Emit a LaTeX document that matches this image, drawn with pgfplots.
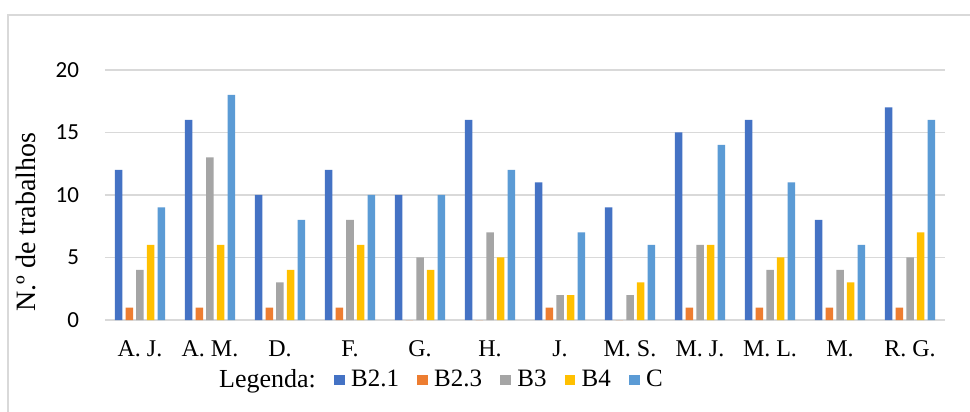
\documentclass[border=0pt]{standalone}
\usepackage{pgfplots}
\pgfplotsset{compat=1.18}
\usepackage{fontspec}
\setmainfont{Liberation Serif}
\newfontfamily\calibri{Carlito}
\definecolor{cB21}{HTML}{4472C4}
\definecolor{cB23}{HTML}{ED7D31}
\definecolor{cB3}{HTML}{A5A5A5}
\definecolor{cB4}{HTML}{FFC000}
\definecolor{cC}{HTML}{5B9BD5}
\definecolor{gridgray}{HTML}{D9D9D9}
\begin{document}
\begin{tikzpicture}
\useasboundingbox (-52.5pt,-46pt) rectangle (432.5pt,160pt);
\fill[white] (-52.5pt,-46pt) rectangle (432.5pt,160pt);
\draw[gridgray, line width=0.9pt] (-48.5pt,-50pt) -- (-48.5pt,152.5pt) -- (440pt,152.5pt);
\begin{axis}[
  at={(0pt,0pt)}, anchor=south west,
  scale only axis, width=420pt, height=125pt,
  ymin=0, ymax=20, xmin=-0.5, xmax=11.5,
  ytick={0,5,10,15,20},
  xtick={0,1,2,3,4,5,6,7,8,9,10,11},
  xticklabels={A. J., A. M., D., F., G., H., J., M. S., M. J., M. L., M., R. G.},
  /pgf/number format/assume math mode=true,
  yticklabel style={font=\calibri\fontsize{11.5}{13}\selectfont, xshift=-9.5pt},
  xticklabel style={font=\fontsize{12}{14}\selectfont, yshift=-7pt},
  major tick length=0pt,
  axis line style={draw=none},
  ymajorgrids,
  grid style={color=gridgray, line width=0.8pt},
  ybar=1.6pt, bar width=3.75pt,
  ylabel={N.º de trabalhos},
  ylabel style={font=\fontsize{14}{16}\selectfont, at={(axis description cs:-0.094,0.392)}, anchor=center, rotate=0},
  legend columns=6,
  legend style={draw=none, fill=none, font=\fontsize{12.5}{14}\selectfont,
    at={(axis description cs:0.4,-0.24)}, anchor=center,
    /tikz/every even column/.append style={column sep=8pt},
    nodes={inner sep=1pt}},
  legend image code/.code={\fill[#1] (0pt,-2.7pt) rectangle (5.4pt,2.7pt); \path (7.6pt,0pt);},
  clip=false,
]
\addlegendimage{empty legend}
\addlegendentry{\fontsize{13}{15}\selectfont Legenda:\hspace{2pt}}
\addplot[fill=cB21, draw=none] coordinates {(0,12) (1,16) (2,10) (3,12) (4,10) (5,16) (6,11) (7,9) (8,15) (9,16) (10,8) (11,17)};
\addlegendentry{B2.1}
\addplot[fill=cB23, draw=none] coordinates {(0,1) (1,1) (2,1) (3,1) (4,0) (5,0) (6,1) (7,0) (8,1) (9,1) (10,1) (11,1)};
\addlegendentry{B2.3}
\addplot[fill=cB3, draw=none] coordinates {(0,4) (1,13) (2,3) (3,8) (4,5) (5,7) (6,2) (7,2) (8,6) (9,4) (10,4) (11,5)};
\addlegendentry{B3}
\addplot[fill=cB4, draw=none] coordinates {(0,6) (1,6) (2,4) (3,6) (4,4) (5,5) (6,2) (7,3) (8,6) (9,5) (10,3) (11,7)};
\addlegendentry{B4}
\addplot[fill=cC, draw=none] coordinates {(0,9) (1,18) (2,8) (3,10) (4,10) (5,12) (6,7) (7,6) (8,14) (9,11) (10,6) (11,16)};
\addlegendentry{C}
\end{axis}
\end{tikzpicture}
\end{document}
